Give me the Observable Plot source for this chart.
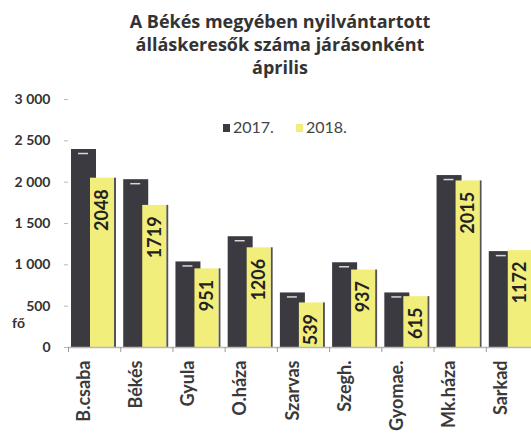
<!DOCTYPE html>
<html>
<head>
<meta charset="utf-8">
<script src="https://cdn.jsdelivr.net/npm/d3@7"></script>
<script src="https://cdn.jsdelivr.net/npm/@observablehq/plot@0.6"></script>
<style>
  html, body { margin: 0; padding: 0; background: #fff; }
  body { width: 531px; height: 436px; overflow: hidden; position: relative; font-family: Lato, "Open Sans", sans-serif; }
  #title { height: 90px; box-sizing: border-box; padding-top: 10px; padding-left: 29px; text-align: center;
           font-family: "Open Sans", Lato, sans-serif; font-weight: bold; font-size: 18px; line-height: 23px; color: #333; }
  #chart { width: 531px; height: 346px; overflow: hidden; }
  #chart svg { max-width: none !important; }
  #legend { position: absolute; top: 117px; left: 223px; font-size: 16px; color: #444; white-space: nowrap; }
  #legend .sw { display: inline-block; width: 7px; height: 8px; margin-right: 3px; vertical-align: 1px; }
</style>
</head>
<body>
<div id="title">A Békés megyében nyilvántartott<br>álláskeresők száma járásonként<br>április</div>
<div id="chart"></div>
<div id="legend"><span class="sw" style="background:#3b3a40"></span>2017.<span style="display:inline-block;width:22px"></span><span class="sw" style="background:#f2ee7c"></span>2018.</div>
<script>
const categories = ["B.csaba", "Békés", "Gyula", "O.háza", "Szarvas", "Szegh.", "Gyomae.", "Mk.háza", "Sarkad"];
const values2017 = [2395, 2030, 1035, 1340, 660, 1025, 660, 2080, 1160];
const values2018 = [2048, 1719, 951, 1206, 539, 937, 615, 2015, 1172];
const yTicks = [0, 500, 1000, 1500, 2000, 2500, 3000];
const unitLabel = "fő";

const data = categories.map((c, i) => ({cat: c, v2017: values2017[i], v2018: values2018[i]}));
const fmt = d => d3.format(",")(d).replace(/,/g, " ");
const font = "Lato, 'Open Sans', sans-serif";

const band = (542 - 68 - 4) / categories.length;

const chart = Plot.plot({
  width: 542,
  height: 346,
  marginLeft: 68,
  marginRight: 4,
  marginTop: 9,
  marginBottom: 89,
  style: {fontFamily: font, background: "#fff", overflow: "visible", maxWidth: "none"},
  x: {domain: categories, padding: 0, round: false, axis: null},
  y: {domain: [0, 3000], axis: null},
  marks: [
    // y axis
    Plot.ruleX([0], {frameAnchor: "left", stroke: "#c4c4c4", strokeWidth: 1.5, y1: 0, y2: 3000}),
    Plot.axisY({ticks: yTicks, tickSize: 4, tickPadding: 14, stroke: "#b8b8b8", tickFormat: fmt,
                fontSize: 14, fontWeight: "bold", fill: "#333", label: null}),
    Plot.text([unitLabel], {frameAnchor: "bottom-left", dx: -50, dy: -20, fontSize: 14, fontWeight: "bold", fill: "#333", textAnchor: "middle"}),
    // bars
    Plot.barY(data, {x: "cat", y: "v2017", fill: "#3b3a40", insetLeft: 3, insetRight: band - 28}),
    Plot.tickY(data, {x: "cat", y: "v2017", stroke: "#d8d8d8", strokeWidth: 1.5, dy: 4, insetLeft: 10, insetRight: band - 20}),
    Plot.barY(data, {x: "cat", y: "v2018", fill: "#555358", insetLeft: 46, insetRight: band - 48}),
    Plot.barY(data, {x: "cat", y: "v2018", fill: "#f2ee7c", insetLeft: 22, insetRight: band - 46}),
    Plot.text(data, {x: "cat", y: "v2018", text: d => String(d.v2018), rotate: -90, textAnchor: "end",
                     dx: 8, dy: 11, fontSize: 18, fontWeight: "bold", fill: "#222", style: "font-variant-numeric: tabular-nums"}),
    // x baseline and ticks
    Plot.ruleY([0], {stroke: "#b8b8b8", strokeWidth: 1.5}),
    Plot.axisX({tickSize: 5, tickFormat: () => "", dx: -band / 2, stroke: "#9a9a9a", label: null}),
    Plot.text(categories, {x: d => d, frameAnchor: "bottom", rotate: -90, textAnchor: "end", dx: -5, dy: 13,
                           fontSize: 18, fontWeight: "bold", fill: "#3a3a3a"})
  ]
});
chart.style.maxWidth = "none";
document.getElementById("chart").appendChild(chart);
</script>
</body>
</html>
